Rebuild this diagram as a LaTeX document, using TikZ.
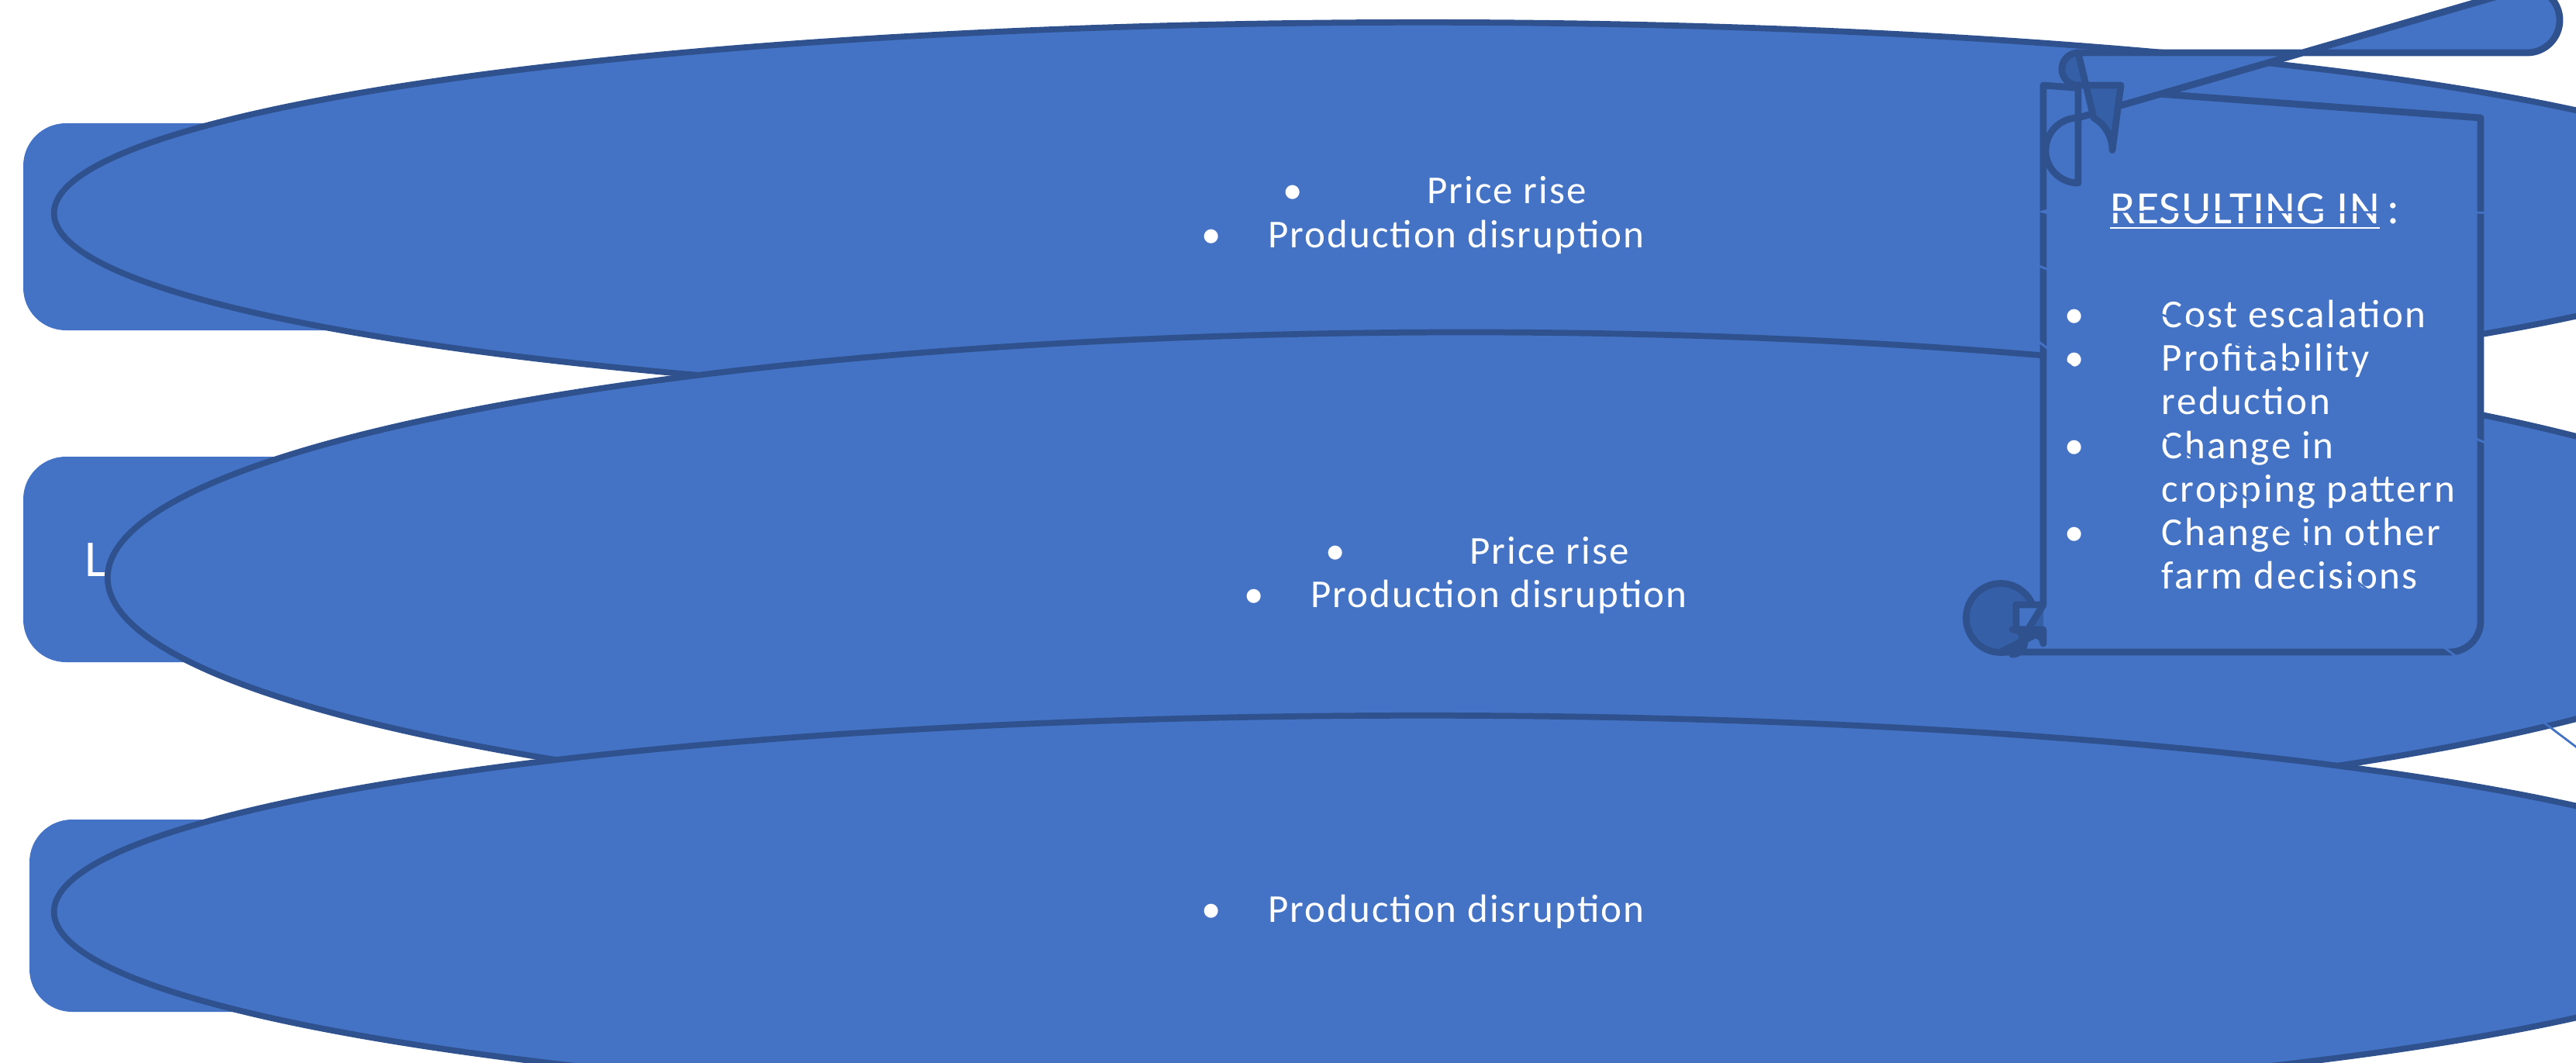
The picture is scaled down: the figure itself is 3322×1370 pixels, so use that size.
\documentclass[tikz,border=0pt]{standalone}
\usepackage{fontspec}
\setmainfont{Carlito}
\usetikzlibrary{shapes.geometric,arrows.meta}
\definecolor{boxblue}{HTML}{4472C4}
\definecolor{edgeblue}{HTML}{2F528F}
\definecolor{curlblue}{HTML}{3560A8}
\definecolor{arrfill}{HTML}{D5DAEB}
\begin{document}
\begin{tikzpicture}[x=0.01cm,y=-0.01cm,
  market/.style={fill=boxblue,draw=none,rounded corners=0.55cm},
  mtext/.style={text=white,font=\fontsize{19}{22}\selectfont\addfontfeature{LetterSpace=3}},
  oval/.style={ellipse,fill=boxblue,draw=edgeblue,line width=2.2pt},
  otext/.style={text=white,font=\fontsize{14.5}{20}\selectfont\addfontfeature{LetterSpace=4}},
  fat/.style={fill=arrfill,draw=arrfill!85!boxblue,line width=0.6pt},
  atext/.style={font=\fontsize{14.5}{17}\selectfont\addfontfeature{LetterSpace=8},align=left,anchor=north west},
  conn/.style={draw=boxblue,line width=0.8pt,-{Latex[length=0.25cm,width=0.16cm]}},
  scrollln/.style={draw=edgeblue,line width=2.5pt,line join=round}]
\useasboundingbox (0,0) rectangle (3322,1370);
% market boxes
\path[market] (30,159) rectangle (583,426);
\node[mtext] (m1) at (306,292) {Input Markets};
\path[market] (30,589) rectangle (640,854);
\node[mtext] (m2) at (335,721) {Labour Markets};
\path[market] (38,1057) rectangle (614,1305);
\node[mtext] (m3) at (326,1181) {Output Markets};
% block arrows
\path[fat] (612,218) -- (1208,218) -- (1208,189) -- (1324,292) -- (1208,396) -- (1208,367) -- (612,367) -- cycle;
\node[atext] (t1) at (618,222) {$\bullet$Disruptions cause supply\\\phantom{$\bullet$}reduction};
\path[fat] (648,669) -- (1277,669) -- (1277,640) -- (1388,742) -- (1277,850) -- (1277,820) -- (648,820) -- cycle;
\node[atext] (t2) at (640,672) {\phantom{$\bullet$}Disruptions cause supply\\\phantom{$\bullet$}reduction};
\path[fat] (625,1106) -- (1246,1106) -- (1246,1087) -- (1330,1167) -- (1246,1250) -- (1246,1233) -- (625,1233) -- cycle;
\node[atext] (t3) at (618,1116) {$\bullet$Disruptions cause supply\\\phantom{$\bullet$}reduction};
% ellipses
\node[oval,minimum width=1004,minimum height=140] (e1) at (1835,275) {};
\node[otext] at (1850,245) {\textbullet\hspace{1.6cm}Price rise};
\node[otext] at (1835,306) {\textbullet\hspace{0.6cm}Production disruption};
\node[oval,minimum width=996,minimum height=180] (e2) at (1890,745) {};
\node[otext] at (1905,710) {\textbullet\hspace{1.6cm}Price rise};
\node[otext] at (1890,770) {\textbullet\hspace{0.6cm}Production disruption};
\node[oval,minimum width=1004,minimum height=144] (e3) at (1835,1176) {};
\node[otext] at (1835,1176) {\textbullet\hspace{0.6cm}Production disruption};
% scroll
\path[scrollln,fill=curlblue] (2580,797) circle[radius=44.5];
\path[scrollln,fill=boxblue] (2635,110) -- (2635,780) -- (2600,780) arc[start angle=90,end angle=270,radius=0] -- (2600,812) -- (2635,812) -- (2635,830) arc[start angle=0,end angle=-90,radius=11] -- (2580,841) -- (3159,841) arc[start angle=90,end angle=0,radius=40] -- (3199,152) -- cycle;
\path[scrollln,fill=curlblue] (2635,812) -- (2595,812) arc[start angle=-90,end angle=90,radius=16] -- (2635,780);
\path[scrollln,fill=boxblue] (2680,68) -- (3259,68) arc[start angle=90,end angle=-90,radius=42] -- (2680,152) arc[start angle=270,end angle=90,radius=42] -- cycle;
\path[scrollln,fill=curlblue] (2735,110) -- (2680,110) arc[start angle=90,end angle=270,radius=21] -- (2700,152) arc[start angle=-60,end angle=0,radius=48] -- cycle;
\node[text=white,font=\fontsize{17}{20}\selectfont\addfontfeature{LetterSpace=2}] (res) at (2908,273) {\underline{RESULTING IN}\,:};
\node[text=white,align=left,anchor=north west,font=\fontsize{14.5}{17}\selectfont\addfontfeature{LetterSpace=5}] (lst) at (2650,368) {%
\begin{tabular}{@{}p{1.25cm}@{}l@{}}
\textbullet & Cost escalation\\[-1pt]
\textbullet & Profitability\\[-1pt]
 & reduction\\[-1pt]
\textbullet & Change in\\[-1pt]
 & cropping pattern\\[-1pt]
\textbullet & Change in other\\[-1pt]
 & farm decisions
\end{tabular}};
% connectors
\coordinate (c1) at (2627,273);
\coordinate (c2) at (2604,333);
\coordinate (c3) at (2587,409);
\draw[conn] (e1.east) -- (c1);
\draw[conn] (e2.east) -- (c2);
\draw[conn] (e3.east) -- (c3);
\end{tikzpicture}
\end{document}
